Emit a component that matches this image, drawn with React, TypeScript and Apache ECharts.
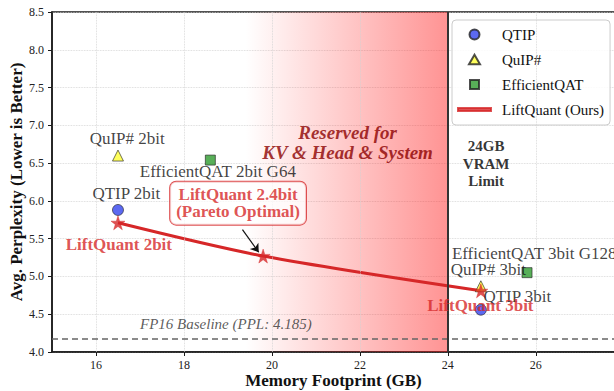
import React, { useEffect, useRef } from 'react';
import * as echarts from 'echarts';

// ---------- data ----------
const X_TICKS = [16, 18, 20, 22, 24, 26];
const QTIP_POINTS = [[16.5, 5.88], [24.75, 4.56]];
const QUIP_POINTS = [[16.5, 6.6], [24.75, 4.87]];
const EQAT_POINTS = [[18.6, 6.54], [25.8, 5.05]];
const LIFTQUANT_POINTS = [[16.5, 5.71], [19.8, 5.27], [24.75, 4.81]];
const FP16_PPL = 4.185;
const VRAM_LIMIT = 24;
const RESERVED_START = 19.4;
const ARROW_FROM = [19.33, 5.62];
const ARROW_TO = [19.7, 5.32];

const ANNOTATIONS = [
  { text: 'QuIP# 2bit', x: 16.71, y: 6.82, kind: 'black' },
  { text: 'EfficientQAT 2bit G64', x: 18.77, y: 6.39, kind: 'black' },
  { text: 'QTIP 2bit', x: 16.69, y: 6.1, kind: 'black' },
  { text: 'LiftQuant 2bit', x: 16.52, y: 5.42, kind: 'red' },
  { text: 'LiftQuant 2.4bit\n(Pareto Optimal)', x: 19.23, y: 5.97, kind: 'box' },
  { text: 'Reserved for\nKV & Head & System', x: 21.72, y: 6.77, kind: 'reserved' },
  { text: '24GB\nVRAM\nLimit', x: 24.87, y: 6.49, kind: 'limit' },
  { text: 'EfficientQAT 3bit G128', x: 24.08, y: 5.3, kind: 'blackLeft' },
  { text: 'QuIP# 3bit', x: 24.92, y: 5.09, kind: 'black' },
  { text: 'QTIP 3bit', x: 25.58, y: 4.74, kind: 'black' },
  { text: 'LiftQuant 3bit', x: 24.74, y: 4.62, kind: 'red' },
  { text: 'FP16 Baseline (PPL: 4.185)', x: 16.99, y: 4.37, kind: 'fp16' },
];

// ---------- styles ----------
const SERIF = "'Liberation Serif', 'DejaVu Serif', serif";
const RED = '#d62728';
const STAR =
  'path://M50,2 L61.8,37.6 L99,37.6 L68.9,59.5 L80.4,95 L50,73 L19.6,95 L31.1,59.5 L1,37.6 L38.2,37.6 Z';
const ICON_CIRCLE = 'path://M0,0M33,11M21.5,5.5A5,5,0,1,1,11.5,5.5A5,5,0,1,1,21.5,5.5Z';
const ICON_TRIANGLE = 'path://M0,0M33,11M16.5,0.8L22,10.3L11,10.3Z';
const ICON_SQUARE = 'path://M0,0M33,11M12,1H21V10H12Z';
const ICON_LINE = 'path://M0,0M33,11M0,4H33V7H0Z';

const LABEL_STYLES: Record<string, any> = {
  black: { color: '#111', fontSize: 17 },
  blackLeft: { color: '#111', fontSize: 17, position: 'right', distance: 0 },
  red: { color: RED, fontSize: 17, fontWeight: 'bold' },
  box: {
    color: RED,
    fontSize: 17,
    fontWeight: 'bold',
    lineHeight: 17,
    backgroundColor: 'rgba(255,255,255,0.9)',
    borderColor: RED,
    borderWidth: 1,
    borderRadius: 6,
    padding: [5, 6, 4, 6],
  },
  reserved: { color: '#8b0000', fontSize: 19, fontWeight: 'bold', fontStyle: 'italic', lineHeight: 20 },
  limit: { color: '#000', fontSize: 15, fontWeight: 'bold', lineHeight: 17.5 },
  fp16: { color: '#333', fontSize: 15, fontStyle: 'italic', position: 'right', distance: 0 },
};

export default function App() {
  const ref = useRef<HTMLDivElement>(null);

  useEffect(() => {
    if (!ref.current) return;
    const chart = echarts.init(ref.current, null, { renderer: 'svg' });

    const markerBorder = { borderColor: '#222', borderWidth: 0.8 };

    const option: any = {
      animation: false,
      textStyle: { fontFamily: SERIF },
      grid: {
        left: 52,
        right: -1,
        top: 12,
        bottom: 39,
        outerBoundsMode: 'none',
        containLabel: false,
        show: true,
        borderColor: '#1a1a1a',
        borderWidth: 1.5,
        backgroundColor: 'transparent',
      },
      legend: {
        data: [
          { name: 'QTIP', icon: ICON_CIRCLE },
          { name: 'QuIP#', icon: ICON_TRIANGLE },
          { name: 'EfficientQAT', icon: ICON_SQUARE },
          { name: 'LiftQuant (Ours)', icon: ICON_LINE },
        ],
        orient: 'vertical',
        left: 452,
        top: 20,
        itemWidth: 33,
        itemHeight: 11,
        itemGap: 10,
        padding: [7, 6, 8, 5],
        backgroundColor: 'rgba(255,255,255,0.85)',
        borderColor: '#cccccc',
        borderWidth: 1,
        borderRadius: 4,
        textStyle: { fontFamily: SERIF, fontSize: 15, color: '#111', padding: [0, 0, 0, 6] },
      },
      xAxis: {
        type: 'value',
        min: 15,
        max: 27.8,
        name: 'Memory Footprint (GB)',
        nameLocation: 'middle',
        nameGap: 20,
        nameMoveOverlap: false,
        nameTextStyle: { fontFamily: SERIF, fontSize: 17, fontWeight: 'bold', color: '#111' },
        axisLine: { show: true, lineStyle: { color: '#1a1a1a', width: 1.5 } },
        axisTick: { show: true, length: 4, customValues: X_TICKS, lineStyle: { color: '#1a1a1a' } },
        axisLabel: {
          customValues: X_TICKS,
          fontFamily: SERIF,
          fontSize: 12,
          color: '#222',
          margin: 7,
          formatter: (v: number) => String(v),
        },
        splitLine: { show: false },
      },
      yAxis: {
        type: 'value',
        min: 4,
        max: 8.5,
        interval: 0.5,
        name: 'Avg. Perplexity (Lower is Better)',
        nameLocation: 'middle',
        nameGap: 27,
        nameMoveOverlap: false,
        nameTextStyle: { fontFamily: SERIF, fontSize: 17, fontWeight: 'bold', color: '#111' },
        axisLine: { show: true, lineStyle: { color: '#1a1a1a', width: 1.5 } },
        axisTick: { show: true, length: 4, lineStyle: { color: '#1a1a1a' } },
        axisLabel: {
          fontFamily: SERIF,
          fontSize: 12,
          color: '#222',
          margin: 8,
          formatter: (v: number) => v.toFixed(1),
        },
        splitLine: { show: true, lineStyle: { color: '#d2d2d2', type: 'dotted', width: 0.8 } },
      },
      series: [
        {
          name: 'guides',
          type: 'line',
          data: [],
          silent: true,
          z: 1,
          markArea: {
            silent: true,
            itemStyle: {
              color: new echarts.graphic.LinearGradient(0, 0, 1, 0, [
                { offset: 0, color: 'rgba(255,30,30,0)' },
                { offset: 1, color: 'rgba(255,30,30,0.48)' },
              ]),
            },
            data: [[{ xAxis: RESERVED_START }, { xAxis: VRAM_LIMIT }]],
          },
          markLine: {
            silent: true,
            symbol: 'none',
            label: { show: false },
            data: [
              ...X_TICKS.map((t) => ({
                xAxis: t,
                lineStyle: { color: '#d2d2d2', type: 'dotted', width: 0.8 },
              })),
              { yAxis: FP16_PPL, lineStyle: { color: '#666', type: [6, 4], width: 1.5 } },
              { xAxis: VRAM_LIMIT, lineStyle: { color: '#333', type: 'solid', width: 2 } },
            ],
          },
        },
        {
          name: 'LiftQuant line',
          type: 'line',
          data: LIFTQUANT_POINTS,
          smooth: 0.3,
          symbol: 'none',
          lineStyle: { color: RED, width: 3 },
          itemStyle: { color: RED },
          z: 3,
        },
        {
          name: 'QTIP',
          type: 'scatter',
          data: QTIP_POINTS,
          symbol: 'circle',
          symbolSize: 11,
          itemStyle: { color: '#3344ee', ...markerBorder },
          z: 4,
        },
        {
          name: 'QuIP#',
          type: 'scatter',
          data: QUIP_POINTS,
          symbol: 'triangle',
          symbolSize: 11,
          itemStyle: { color: '#ffff33', ...markerBorder },
          z: 4,
        },
        {
          name: 'EfficientQAT',
          type: 'scatter',
          data: EQAT_POINTS,
          symbol: 'rect',
          symbolSize: 10,
          itemStyle: { color: '#2e9b2e', ...markerBorder },
          z: 4,
        },
        {
          name: 'LiftQuant (Ours)',
          type: 'scatter',
          data: LIFTQUANT_POINTS,
          symbol: STAR,
          symbolSize: 14,
          itemStyle: { color: RED, borderColor: RED, borderWidth: 0.5 },
          z: 5,
          markLine: {
            silent: true,
            symbol: ['none', 'arrow'],
            symbolSize: 8,
            label: { show: false },
            lineStyle: { color: '#111', width: 1.2, type: 'solid', curveness: 0.3 },
            data: [[{ coord: ARROW_FROM }, { coord: ARROW_TO }]],
          },
        },
        {
          name: 'annotations',
          type: 'scatter',
          silent: true,
          symbolSize: 1,
          itemStyle: { color: 'rgba(0,0,0,0)' },
          z: 6,
          data: ANNOTATIONS.map((a) => ({
            value: [a.x, a.y],
            label: {
              show: true,
              position: 'inside',
              formatter: a.text,
              fontFamily: SERIF,
              ...LABEL_STYLES[a.kind],
            },
          })),
        },
      ],
    };

    chart.setOption(option);
    return () => chart.dispose();
  }, []);

  return (
    <div style={{ position: 'fixed', left: 0, top: 0, width: 614, height: 391, overflow: 'hidden', background: '#fff' }}>
      <div ref={ref} style={{ width: 614, height: 391 }} />
    </div>
  );
}
